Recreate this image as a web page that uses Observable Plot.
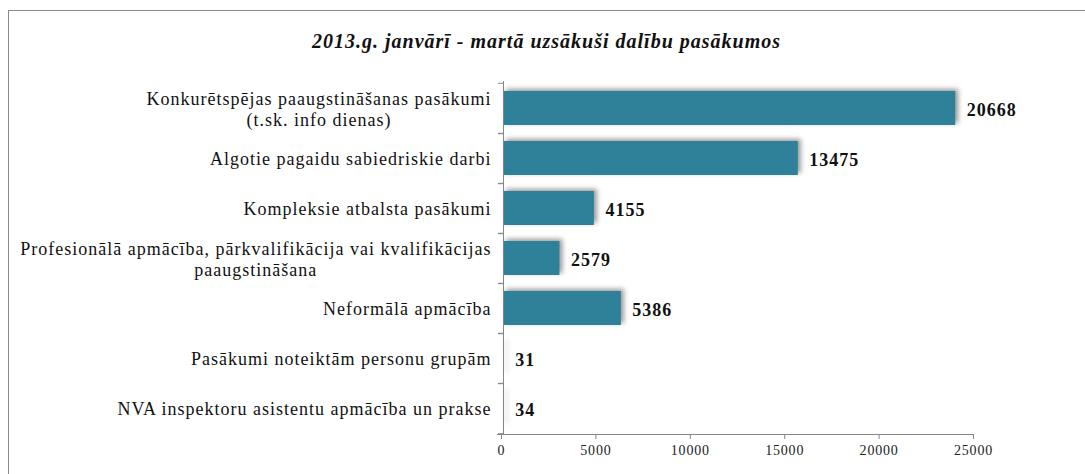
<!DOCTYPE html>
<html>
<head>
<meta charset="utf-8">
<script src="https://cdn.jsdelivr.net/npm/d3@7"></script>
<script src="https://cdn.jsdelivr.net/npm/@observablehq/plot@0.6"></script>
<style>
  html, body { margin: 0; padding: 0; background: #fff; }
  #wrap { position: relative; width: 1085px; height: 474px; overflow: hidden;
    font-family: "Liberation Serif", "Times New Roman", serif; }
  #frame { position: absolute; left: 8px; top: 10px; right: -4px; bottom: -4px;
    border-top: 1px solid #8a8a8a; border-left: 1px solid #8a8a8a; }
  #title { position: absolute; left: 8px; right: 0; top: 30px; text-align: center;
    font-style: italic; font-weight: bold; font-size: 20px; letter-spacing: 1px; color: #111; }
  #chart svg { position: absolute; left: 0; top: 0; }
  #chart svg, #chart svg text { font-family: "Liberation Serif", "Times New Roman", serif !important; }
  #chart g[aria-label="y-axis tick label"] { letter-spacing: 1px; }
  #chart g[aria-label="text"] { letter-spacing: 1px; }
  #chart g[aria-label="x-axis tick label"] { letter-spacing: 0.8px; }
  #chart g[aria-label="bar"] rect { filter: drop-shadow(3px -2px 2.5px rgba(0,0,0,0.4)); }
</style>
</head>
<body>
<div id="wrap">
  <div id="frame"></div>
  <div id="title">2013.g. janvārī - martā uzsākuši dalību pasākumos</div>
  <div id="chart"></div>
</div>
<script>
const categories = [
  "Konkurētspējas paaugstināšanas pasākumi\n(t.sk. info dienas)",
  "Algotie pagaidu sabiedriskie darbi",
  "Kompleksie atbalsta pasākumi",
  "Profesionālā apmācība, pārkvalifikācija vai kvalifikācijas\npaaugstināšana",
  "Neformālā apmācība",
  "Pasākumi noteiktām personu grupām",
  "NVA inspektoru asistentu apmācība un prakse"
];
const values = [20668, 13475, 4155, 2579, 5386, 31, 34];
const xTicks = [0, 5000, 10000, 15000, 20000, 25000];

const data = categories.map((c, i) => ({category: c, value: values[i]}));

const W = 1085, H = 474, mTop = 81, mBottom = 40;
const step = (H - mTop - mBottom) / categories.length;
const font = "Liberation Serif, Times New Roman, serif";
const axisGray = "#868686";

const plotA = Plot.plot({
  width: W, height: H,
  marginLeft: 503, marginRight: 35, marginTop: mTop, marginBottom: mBottom,
  style: {background: "transparent", fontFamily: font, overflow: "visible"},
  x: {domain: [0, 25000], axis: null},
  y: {domain: categories, paddingInner: 0.33, paddingOuter: 0.165, label: null},
  marks: [
    Plot.barX(data, {x: "value", y: "category", fill: "#2e8198"}),
    Plot.ruleX([0], {stroke: axisGray}),
    Plot.axisY({label: null, tickSize: 0, tickPadding: 12, fontSize: 18, lineHeight: 1.2, fill: "#111", tickFormat: d => d}),
    Plot.axisY({label: null, tickSize: 5, tickFormat: () => "", dy: -step / 2, stroke: axisGray}),
    Plot.axisY({label: null, tickSize: 5, tickFormat: () => "", dy: step / 2, stroke: axisGray}),
    Plot.text(data, {x: "value", y: "category", text: d => String(d.value), dx: 11, dy: 2,
      textAnchor: "start", fontWeight: "bold", fontSize: 18, fill: "#111"})
  ]
});

const plotB = Plot.plot({
  width: W, height: H,
  marginLeft: 501, marginRight: 112, marginTop: H - mBottom - 1, marginBottom: mBottom,
  style: {background: "transparent", fontFamily: font, overflow: "visible"},
  x: {domain: [0, 25000], label: null},
  y: {domain: [0, 1], axis: null},
  marks: [
    Plot.ruleY([0], {stroke: axisGray, insetLeft: -4}),
    Plot.axisX({label: null, ticks: xTicks, tickSize: 5, tickPadding: 6, fontSize: 14, tickFormat: d => String(d),
      stroke: axisGray, fill: "#222"})
  ]
});

const chart = document.getElementById("chart");
chart.appendChild(plotA);
chart.appendChild(plotB);

d3.select(plotA).selectAll('g[aria-label="y-axis tick label"] text').each(function() {
  const tspans = this.querySelectorAll("tspan");
  if (tspans.length > 1) {
    let maxW = 0;
    tspans.forEach(t => { maxW = Math.max(maxW, t.getComputedTextLength()); });
    this.setAttribute("text-anchor", "middle");
    tspans.forEach(t => t.setAttribute("x", -maxW / 2));
  }
});
</script>
</body>
</html>
